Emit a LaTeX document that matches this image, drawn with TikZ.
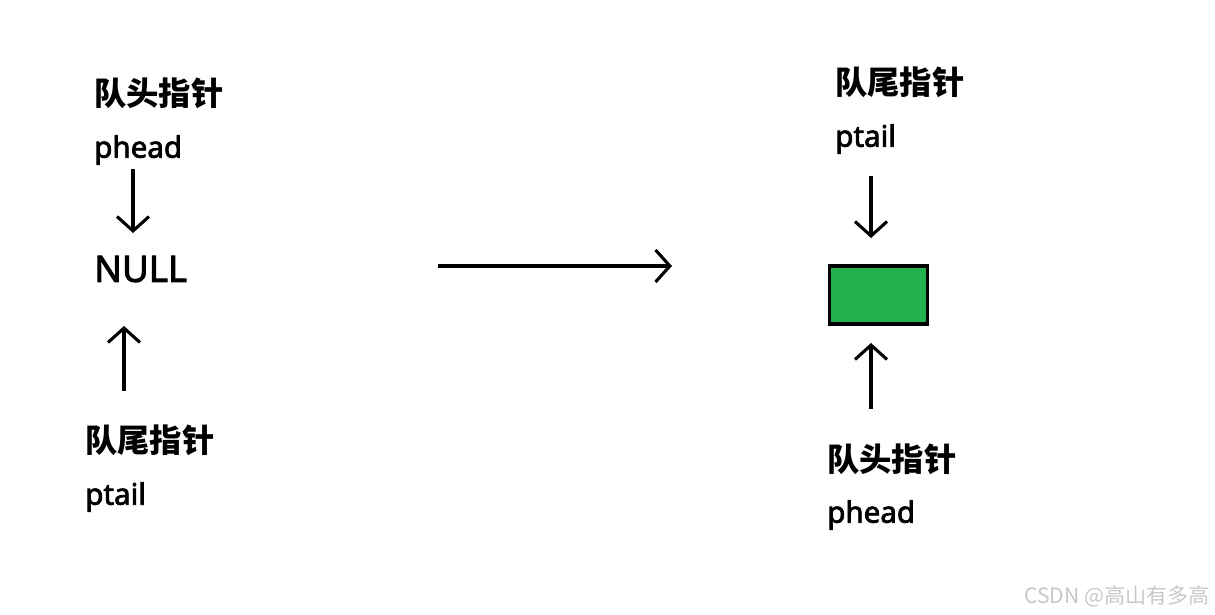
\documentclass[tikz,border=0pt]{standalone}
\usepackage{fontspec}
\setmainfont{Noto Sans}
\newfontfamily\lat[FakeBold=2.5]{Noto Sans}
\newfontfamily\cjk{Noto Sans CJK SC}
\usetikzlibrary{arrows.meta}
\definecolor{paintgreen}{HTML}{22B14C}
\definecolor{wm}{HTML}{C8C8C8}
\tikzset{
  title/.style={anchor=west,inner sep=0pt,font=\cjk\bfseries\fontsize{23}{25}\selectfont},
  lbl/.style={anchor=west,inner sep=0pt,font=\lat\fontsize{21}{24}\selectfont},
  ptr/.style={line width=2.2pt,-{Straight Barb[length=0.36cm,width=0.8cm,line width=2.2pt]}},
}
\begin{document}
\begin{tikzpicture}[x=0.025cm,y=-0.025cm]
\useasboundingbox (0,0) rectangle (1215,615);
% left side
\node[title] (lh) at (94,93) {队头指针};
\node[lbl] (lph) at (94,150) {phead};
\node[anchor=west,inner sep=0pt,font=\lat\fontsize{26}{30}\selectfont] (null) at (94,269) {NULL};
\node[title] (lt) at (85,440) {队尾指针};
\node[lbl] (lpt) at (85,497) {ptail};
\coordinate (a1s) at (133,169);
\coordinate (a1e) at (133,233);
\coordinate (a2s) at (124,391);
\coordinate (a2e) at (124,326);
\draw[ptr] (a1s) -- (a1e);
\draw[ptr] (a2s) -- (a2e);
% middle arrow
\coordinate (ms) at (438,266);
\coordinate (me) at (672,266);
\draw[ptr] (ms) -- (me);
% right side
\node[title] (rt) at (835,82) {队尾指针};
\node[lbl] (rpt) at (835,139) {ptail};
\node[draw=black,line width=2.2pt,fill=paintgreen,minimum width=2.45cm,minimum height=1.45cm,inner sep=0pt] (box) at (878.5,295) {};
\node[title] (rh) at (827,459) {队头指针};
\node[lbl] (rph) at (827,515) {phead};
\coordinate (r1s) at (871,176);
\coordinate (r1e) at (871,238);
\coordinate (r2s) at (871,409);
\coordinate (r2e) at (871,343);
\draw[ptr] (r1s) -- (r1e);
\draw[ptr] (r2s) -- (r2e);
% watermark
\node[anchor=east,inner sep=0pt,text=wm,font=\cjk\fontsize{15}{16}\selectfont] (wmk) at (1210,596) {CSDN @高山有多高};
\end{tikzpicture}
\end{document}
